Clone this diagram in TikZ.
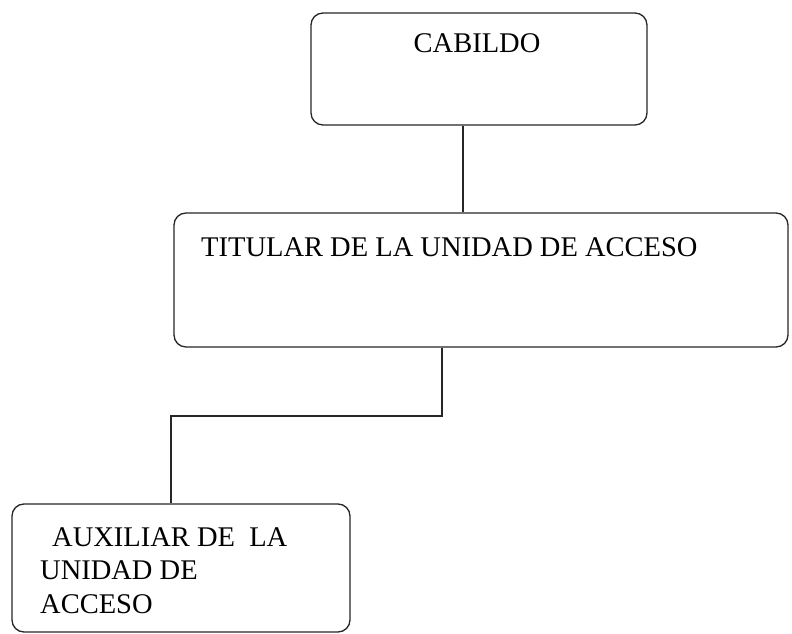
\documentclass[tikz,border=0pt]{standalone}
\usepackage{fontspec}
\setmainfont{Liberation Serif}
\begin{document}
\begin{tikzpicture}[x=1pt,y=1pt,
  box/.style={draw=black!85, line width=1.3pt, rounded corners=12pt, inner sep=0pt},
  lbl/.style={inner sep=0pt, font=\fontsize{28.5}{33}\selectfont, text=black},
  conn/.style={draw=black!85, line width=1.3pt}]
\useasboundingbox (0,0) rectangle (792,634);
\node[box, minimum width=336pt, minimum height=112pt] (cab) at (479,565) {};
\node[box, minimum width=614pt, minimum height=134pt] (tit) at (481,354) {};
\node[box, minimum width=338pt, minimum height=128pt] (aux) at (181,66) {};
\node[lbl, anchor=base] (tcab) at (477,581) {CABILDO};
\node[lbl, anchor=base west] (ttit) at (201,377) {TITULAR DE LA UNIDAD DE ACCESO};
\node[lbl, anchor=base west] (taux1) at (52,87) {AUXILIAR DE\ \ LA};
\node[lbl, anchor=base west] (taux2) at (40,54) {UNIDAD DE};
\node[lbl, anchor=base west] (taux3) at (40,20) {ACCESO};
\coordinate (elbow) at (171,218);
\draw[conn] ([xshift=-16pt]cab.south) -- ([xshift=-16pt]cab.south |- tit.north);
\draw[conn] ([xshift=-39pt]tit.south) |- (elbow) -- ([xshift=-10pt]aux.north);
\end{tikzpicture}
\end{document}
